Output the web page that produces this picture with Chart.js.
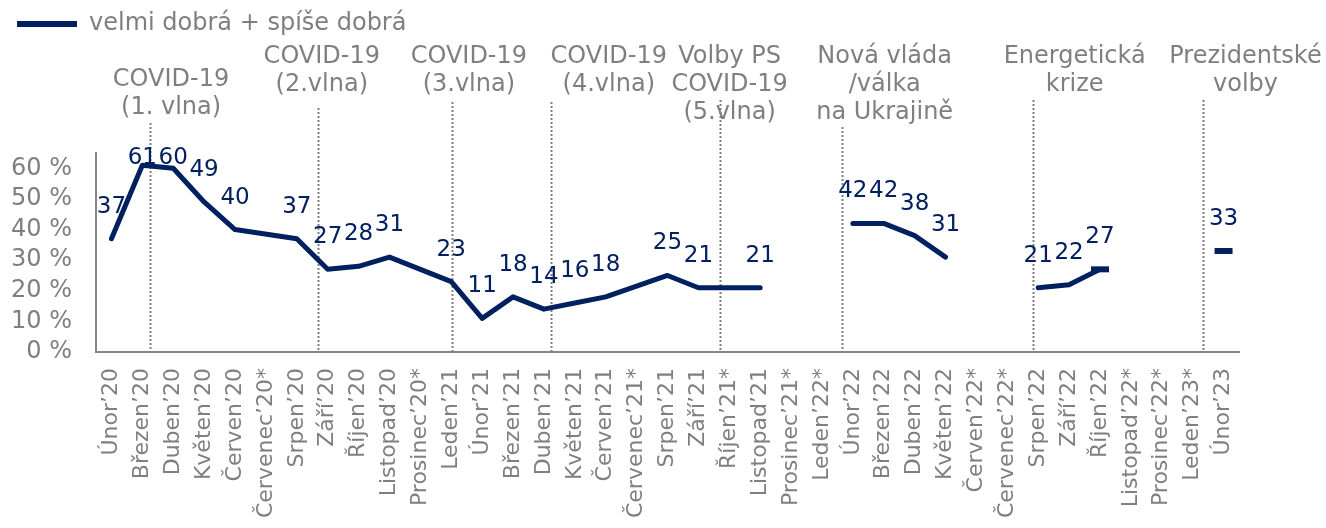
<!DOCTYPE html>
<html lang="cs">
<head>
<meta charset="utf-8">
<script src="https://cdn.jsdelivr.net/npm/chart.js@4.4.1/dist/chart.umd.min.js"></script>
<style>
  html, body { margin: 0; padding: 0; background: #ffffff; }
  #wrap { width: 1326px; height: 528px; position: relative; }
</style>
</head>
<body>
<div id="wrap"><canvas id="hodnoceni"></canvas></div>
<script>
// ===============================
// DATA
// ===============================

// mesice oznacene * = bez mereni
const months = [
  "Únor’20", "Březen’20", "Duben’20", "Květen’20", "Červen’20", "Červenec’20*",
  "Srpen’20", "Září’20", "Říjen’20", "Listopad’20", "Prosinec’20*", "Leden’21",
  "Únor’21", "Březen’21", "Duben’21", "Květen’21", "Červen’21", "Červenec’21*",
  "Srpen’21", "Září’21", "Říjen’21*", "Listopad’21", "Prosinec’21*", "Leden’22*",
  "Únor’22", "Březen’22", "Duben’22", "Květen’22", "Červen’22*", "Červenec’22*",
  "Srpen’22", "Září’22", "Říjen’22", "Listopad’22*", "Prosinec’22*", "Leden’23*",
  "Únor’23"
];

const dobra = [
  37, 61, 60, 49, 40, null,
  37, 27, 28, 31, null, 23,
  11, 18, 14, 16, 18, null,
  25, 21, null, 21, null, null,
  42, 42, 38, 31, null, null,
  21, 22, 27, null, null, null,
  33
];

const seriesLabel = "velmi dobrá + spíše dobrá";

// udalosti (poloha na ose = index mesice)
const eventAt = [1.25, 6.68, 11.02, 14.22, 19.69, 23.64, 29.82, 35.32];

const eventText = [
  ["COVID-19", "(1. vlna)"],
  ["COVID-19", "(2.vlna)"],
  ["COVID-19", "(3.vlna)"],
  ["COVID-19", "(4.vlna)"],
  ["Volby PS", "COVID-19", "(5.vlna)"],
  ["Nová vláda", "/válka", "na Ukrajině"],
  ["Energetická", "krize"],
  ["Prezidentské", "volby"]
];

// ===============================
// STYLE
// ===============================

const NAVY = "#002060";
const GREY = "#7f7f7f";
const FONT = "'DejaVu Sans', Verdana, sans-serif";

// umisteni textu udalosti (x v jednotkach osy, y v px)
const eventTextX = [1.93, 6.81, 11.57, 16.10, 20.01, 25.03, 31.18, 36.71];
const eventTextY = [80, 57, 57, 57, 57, 57, 57, 57];
const eventLineTop = [123, 108, 102, 102, 100, 127, 100, 100];

// body kreslene jako kratka carka
const dashPoints = ["Říjen’22", "Únor’23"];

// jen namerene mesice; jeden chybejici mesic se premosti, delsi mezera ne
const points = months
  .map((m, i) => dobra[i] === null ? null : { x: m, y: dobra[i] })
  .filter(p => p !== null);

// ===============================
// PLUGINY
// ===============================

const eventsPlugin = {
  id: "events",
  beforeDatasetsDraw(chart) {
    const ctx = chart.ctx;
    const x = chart.scales.x;
    const bottom = chart.chartArea.bottom;
    ctx.save();
    ctx.strokeStyle = GREY;
    ctx.lineWidth = 2;
    ctx.setLineDash([2, 2]);
    eventAt.forEach((at, i) => {
      const px = Math.round(x.getPixelForValue(at)) + 0.5;
      ctx.beginPath();
      ctx.moveTo(px, eventLineTop[i]);
      ctx.lineTo(px, bottom);
      ctx.stroke();
    });
    ctx.restore();
  },
  afterDraw(chart) {
    const ctx = chart.ctx;
    const x = chart.scales.x;
    ctx.save();
    ctx.fillStyle = GREY;
    ctx.font = "24px " + FONT;
    ctx.textAlign = "center";
    ctx.textBaseline = "middle";
    eventText.forEach((lines, i) => {
      const px = x.getPixelForValue(eventTextX[i]);
      lines.forEach((t, j) => {
        ctx.fillText(t, px, eventTextY[i] + j * 28);
      });
    });
    ctx.restore();
  }
};

const valueLabels = {
  id: "valueLabels",
  afterDatasetsDraw(chart) {
    const ctx = chart.ctx;
    const meta = chart.getDatasetMeta(0);
    const top = chart.chartArea.top;
    ctx.save();
    ctx.fillStyle = NAVY;
    ctx.font = "23px " + FONT;
    ctx.textAlign = "center";
    ctx.textBaseline = "middle";
    meta.data.forEach((pt, i) => {
      const v = points[i].y;
      const y = Math.max(pt.y - 32, top + 5);
      ctx.fillText(String(v), pt.x, y);
    });
    ctx.restore();
  }
};

// ===============================
// GRAF
// ===============================

const ctx = document.getElementById("hodnoceni").getContext("2d");

const chart = new Chart(ctx, {
  type: "line",
  data: {
    labels: months,
    datasets: [{
      label: seriesLabel,
      data: points,
      borderColor: NAVY,
      backgroundColor: NAVY,
      borderWidth: 5,
      borderCapStyle: "round",
      borderJoinStyle: "round",
      tension: 0,
      spanGaps: 2,
      pointStyle: "line",
      pointRadius: (c) => c.raw && dashPoints.includes(c.raw.x) ? 9 : 0,
      pointBorderWidth: 6,
      pointBorderColor: NAVY,
      pointHoverRadius: 0
    }]
  },
  options: {
    responsive: true,
    maintainAspectRatio: false,
    animation: false,
    layout: {
      padding: { left: 5, right: 87, top: 0, bottom: 0 }
    },
    plugins: {
      legend: {
        display: true,
        position: "top",
        align: "start",
        labels: {
          usePointStyle: true,
          pointStyle: "line",
          pointStyleWidth: 60,
          padding: 12,
          color: GREY,
          font: { family: FONT, size: 24 }
        }
      },
      title: {
        display: true,
        text: "",
        weight: 500,
        font: { size: 10, lineHeight: 1 },
        padding: { top: 0, bottom: 97 }
      },
      tooltip: { enabled: false }
    },
    scales: {
      x: {
        offset: true,
        grid: { display: false, drawTicks: false },
        border: { display: true, color: "#868686", width: 2 },
        ticks: {
          autoSkip: false,
          minRotation: 90,
          maxRotation: 90,
          padding: 16,
          color: GREY,
          font: { family: FONT, size: 22 }
        },
        afterFit: (s) => { s.height = 176; }
      },
      y: {
        min: 0,
        max: 65,
        grid: { display: false, drawTicks: false },
        border: { display: true, color: "#868686", width: 2 },
        ticks: {
          stepSize: 10,
          includeBounds: false,
          padding: 24,
          color: GREY,
          font: { family: FONT, size: 24 },
          callback: (v) => v + " %"
        },
        afterFit: (s) => { s.width = 91; }
      }
    }
  },
  plugins: [eventsPlugin, valueLabels]
});
</script>
</body>
</html>
